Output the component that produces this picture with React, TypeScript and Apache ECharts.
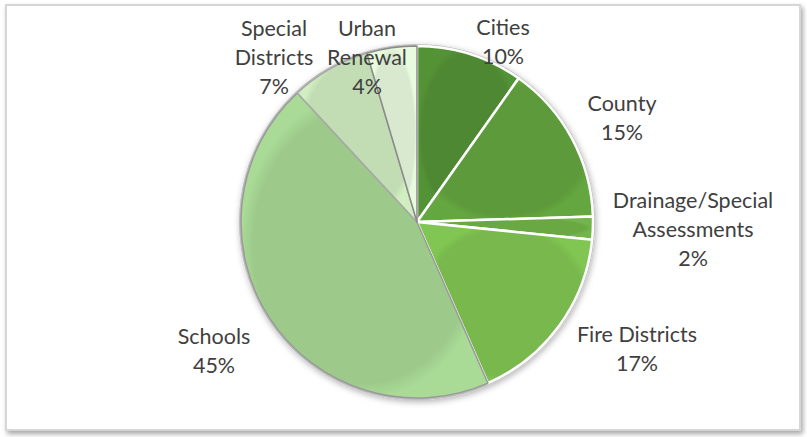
import React, { useEffect, useRef } from "react";
import * as echarts from "echarts";

const categories = [
  "Cities",
  "County",
  "Drainage/Special\nAssessments",
  "Fire Districts",
  "Schools",
  "Special\nDistricts",
  "Urban\nRenewal",
];
const values = [9.8, 14.7, 2.1, 16.8, 44.7, 7.3, 4.6];
const colors = ["#4e8832", "#5d9a3b", "#6aa844", "#78b84d", "#9dca8b", "#c2ddb3", "#d8e9cf"];
const borderColors = ["#ffffff", "#ffffff", "#ffffff", "#ffffff", "#9a9a9a", "#a8a8a8", "#8a8a8a"];
// label block centres (layout only)
const labelPos: [number, number][] = [
  [503, 41],
  [622, 117],
  [693, 229],
  [637, 348],
  [214, 350],
  [274, 57],
  [367, 57],
];

export default function App() {
  const ref = useRef<HTMLDivElement>(null);
  useEffect(() => {
    document.body.style.margin = "0";
    const chart = echarts.init(ref.current!, undefined, { renderer: "svg" });
    const font = "Lato, 'Open Sans', sans-serif";
    chart.setOption({
      animation: false,
      backgroundColor: "#ffffff",
      graphic: [
        {
          type: "rect",
          z: -10,
          shape: { x: 6, y: 5, width: 794, height: 425 },
          style: {
            fill: "#ffffff",
            stroke: "#d6d6d6",
            lineWidth: 2,
            shadowBlur: 5,
            shadowOffsetX: 2,
            shadowOffsetY: 3,
            shadowColor: "rgba(0,0,0,0.35)",
          },
        },
      ],
      series: [
        {
          type: "pie",
          silent: true,
          z: 1,
          center: [417, 222],
          radius: [0, 178],
          label: { show: false },
          labelLine: { show: false },
          itemStyle: {
            color: "#bdbdbd",
            shadowBlur: 6,
            shadowOffsetX: 1,
            shadowOffsetY: 2,
            shadowColor: "rgba(0,0,0,0.3)",
          },
          data: [{ value: 1, name: "rim" }],
        },
        {
          type: "pie",
          z: 2,
          center: [417, 222],
          radius: [0, 176],
          startAngle: 90,
          clockwise: true,
          percentPrecision: 0,
          label: {
            show: true,
            position: "outside",
            formatter: "{b}\n{d}%",
            fontFamily: font,
            fontSize: 21.5,
            lineHeight: 29,
            color: "#404040",
            align: "center",
            overflow: "none",
          },
          labelLine: { show: false, length: 5, length2: 5 },
          labelLayout: (params: any) => {
            const p = labelPos[params.dataIndex];
            return { x: p[0], y: p[1], align: "center", verticalAlign: "middle" };
          },
          data: categories.map((name, i) => ({
            name,
            value: values[i],
            itemStyle: {
              color: {
                type: "radial",
                x: 0.5,
                y: 0.5,
                r: 0.5,
                colorStops: [
                  { offset: 0, color: colors[i] },
                  { offset: 0.9, color: colors[i] },
                  { offset: 1, color: echarts.color.lift(colors[i], -0.08) },
                ],
              },
              borderColor: borderColors[i],
              borderWidth: i < 4 ? 2.5 : 1.5,
            },
          })),
        },
      ],
    });
    return () => chart.dispose();
  }, []);
  return <div ref={ref} style={{ width: 807, height: 437 }} />;
}
